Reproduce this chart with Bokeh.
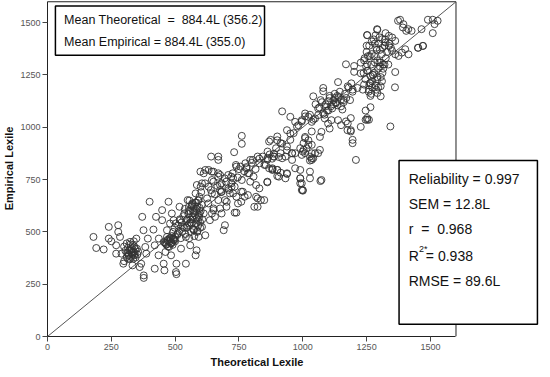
from bokeh.plotting import figure
from bokeh.models import Range1d, Label, BoxAnnotation, FixedTicker, ColumnDataSource, Title
from bokeh.embed import file_html
from bokeh.resources import INLINE

# ---- data (theoretical, empirical) ----
theo_low = [180,191,220,240,240,250,269,269,277,277,284,290,297,300,310,320,323,329,333,336,341,348,361,367,371,376,377,377,383,387,393,400,415,420,420,425,435,436,449,449,
            305,315,318,325,330,335,340,345,350,355,310,322,338,352,300,
            312,318,326,332,338,344,316,328,334,342]
emp_low = [476,423,416,524,468,455,396,436,532,500,476,396,348,360,380,412,452,404,340,372,388,468,332,348,572,508,292,280,428,396,468,644,511,436,324,572,388,468,604,556,
           410,425,395,440,418,400,430,378,420,405,445,370,455,392,430,
           400,388,412,392,405,418,372,380,436,398]

theo_b = [455,458,462,468,468,474,476,480,484,487,494,497,503,505,505,510,517,520,523,530,536,542,542,549,555,559,567,574,580,584,587,590,592,595,600,605,612,618,630,636,644,650,656,669,676,690,695,702,714,733,733,759,785,810,823,836,
          460,465,470,472,478,482,485,488,490,492,495,498,500,502,508,512,515,518,522,525,528,532,535,538,540,545,548,552,555,558,560,562,565,568,570,572,575,578,580,582,585,588,590,593,596,598,600,602,604,606,
          455,462,470,478,486,494,500,466,484,492,
          545,552,560,566,572,578,584,590,596,556,564,574,586,594,548,570,582,598]
emp_b = [348,316,404,508,476,644,428,540,388,588,556,460,308,298,348,492,620,556,420,524,588,348,476,652,540,436,572,508,388,412,620,556,476,668,716,524,588,484,636,556,684,604,572,652,700,508,532,644,684,592,716,692,676,620,660,652,
         450,440,462,430,455,470,445,480,438,500,465,520,455,540,485,530,505,560,470,545,500,575,520,610,490,555,530,585,470,600,545,500,625,560,515,590,480,640,540,600,565,505,650,580,615,545,600,690,630,560,
         452,446,458,470,450,462,476,440,445,468,
         520,600,560,630,510,580,610,530,590,650,540,620,500,570,560,600,640,520]

theo_c = [761,761,731,641,669,669,599,618,643,669,694,720,738,756,775,794,807,823,843,862,868,868,794,585,617,650,676,720,761,
          625,640,655,665,680,700,710,725,745,750,770,780,790,800,815,830,850,870,880,895,
          861,887,913,932,958,804,830,855,740,779,785,881,900,938,990,996,996,861,817,830,817,849,823,
          765,772,759,727,740,746,695,701,676,644,650,682,740,
          721,708,682,682,669,644,631,605,612,631,650,676,708,727,580,592,567,554]
emp_c = [959,921,881,860,860,844,788,796,788,780,756,764,820,812,828,844,764,860,860,884,932,804,740,724,732,740,724,732,748,
         660,700,680,720,690,740,700,780,760,800,790,810,780,830,800,850,820,870,850,900,
         845,860,876,860,876,844,828,820,812,804,780,804,796,780,756,732,700,740,724,708,668,652,620,
         692,668,644,684,668,636,652,620,612,588,612,588,592,
         716,708,692,732,764,748,716,732,780,796,788,772,772,756,684,652,636,620]

theo_d = [919,951,970,983,996,1009,1022,1035,1048,1060,1080,1086,1099,1105,1112,1138,1150,1176,1188,1227,1195,1195,1252,1259,1343,1208,1073,1035,1041,996,1009,938,951,900,919,887,906,938,958,970,1009,1022,1067,1073,1035,1048,1060,990,1028,1028,881,906,932,970,1003,1000,1069,990,990,1000,881,900,913,900,938,861,1028,1028,1067,1000,1015,1022,919,958,887,861,
          874,900,913,938,951,964,977,996,1009,1028,1041,1035,1009,990,1003,1035,1035,
          1041,1080,1080,1125,1150,1138,1176,1195,1214,1240,1259,1090,1100,1110,1120,1130,1140,1105,1115,1125,1135,1145,1160,1170,1095,1065,1050,1085,1155,1185,
          1060,1075,1090,1105,1120,1135,1150,1165,1180,1195,1070,1100,1130,1160,1190]
emp_d = [1076,1050,1026,1010,1034,1066,1050,1026,1042,1058,1066,1042,1018,994,1034,1034,1010,1018,986,1002,940,924,1044,1036,1004,844,748,844,852,868,876,986,970,938,922,874,858,890,844,876,954,938,954,978,916,876,876,796,788,756,796,764,756,804,924,697,743,756,732,700,799,796,783,767,777,737,860,841,892,884,900,916,852,876,860,852,
         940,956,924,908,940,972,1004,1028,1052,1060,1036,980,948,900,892,876,852,
         1148,1188,1172,1140,1132,1216,1196,1180,1188,1204,1180,1110,1125,1100,1130,1115,1145,1150,1090,1160,1105,1170,1120,1140,1080,1095,1110,1060,1085,1130,
         1090,1120,1100,1140,1110,1150,1100,1160,1190,1170,1130,1080,1120,1130,1210]

theo_e = [1252,1292,1324,1337,1350,1362,1311,1324,1337,1350,1362,1375,1388,1401,1414,1169,1201,1227,1252,1201,1227,1265,1265,1292,1305,1292,1305,1362,1246,1252,1188,1175,1188,1265,1246,1169,1361,1392,1405,1291,1252,
          1235,1240,1245,1250,1255,1260,1262,1268,1270,1275,1280,1285,1288,1295,1300,1305,1310,1315,1320,1325,1238,1248,1258,1272,1282,1292,1302,1312,1322,1330,1335,1340,1255,1265,1275,1285,1295,1305,1315,1345,
          1242,1252,1262,1272,1282,1292,1302,1312,1260,1270,1280,1290,1300,1310,1250,1320,1298,1278,1268,1288]
emp_e = [1440,1466,1450,1437,1429,1413,1421,1405,1389,1365,1349,1341,1357,1373,1349,1301,1293,1309,1301,1265,1258,1245,1212,1229,1196,1164,1148,1264,1036,1036,1044,986,980,1096,1080,1028,1191,1477,1461,1469,1441,
         1180,1320,1230,1360,1270,1390,1210,1300,1410,1250,1340,1200,1380,1280,1430,1240,1350,1300,1390,1330,1260,1290,1170,1220,1400,1320,1370,1260,1420,1360,1300,1400,1340,1150,1250,1440,1190,1310,1280,1380,
         1330,1270,1340,1190,1310,1240,1290,1380,1200,1350,1260,1370,1310,1220,1390,1300,1400,1420,1160,1180]

theo_f = [1381,1394,1413,1426,1465,1490,1509,1528,1516,1509,1452,1471,1470,1451,1373]
emp_f = [1514,1493,1469,1461,1469,1514,1514,1509,1493,1450,1380,1389,1389,1380,1509]

axis_ticks = [0, 250, 500, 750, 1000, 1250, 1500]
axis_max = 1600
identity_line = [0, 1600]

stats_box1 = ["Mean Theoretical \u00a0= \u00a0884.4L (356.2)", "Mean Empirical = 884.4L (355.0)"]
stats_box2 = ["Reliability = 0.997", "SEM = 12.8L", "r \u00a0= \u00a00.968", "R", "RMSE = 89.6L"]

theoretical = theo_low + theo_b + theo_c + theo_d + theo_e + theo_f
empirical = emp_low + emp_b + emp_c + emp_d + emp_e + emp_f

FONT = "Liberation Sans"
INK = "#111111"

# frame extended to the right so the statistics box can overhang the plot area
p = figure(width=540, height=369, output_backend="svg", toolbar_location=None,
           x_range=Range1d(0, 1931), y_range=Range1d(0, 1606),
           min_border_left=38, min_border_right=0, min_border_top=0, min_border_bottom=0)
p.background_fill_color = "white"
p.border_fill_color = "white"
p.outline_line_color = None
p.grid.visible = False

# visible plot box (top and right sides)
p.line([0, axis_max, axis_max], [axis_max, axis_max, 0], line_color="#222222", line_width=1)

p.line(identity_line, identity_line, line_color="#555555", line_width=1)
src = ColumnDataSource(dict(x=theoretical, y=empirical))
p.scatter("x", "y", source=src, marker="circle", size=7, fill_color=None,
          line_color="#333333", line_width=1, line_alpha=0.9)

for ax in (p.xaxis[0], p.yaxis[0]):
    ax.ticker = FixedTicker(ticks=axis_ticks)
    ax.bounds = (0, axis_max)
    ax.minor_tick_line_color = None
    ax.major_tick_out = 5
    ax.major_tick_in = 0
    ax.major_label_standoff = 2
    ax.major_label_text_font = FONT
    ax.major_label_text_font_size = "9px"
    ax.major_label_text_color = "#555555"
    ax.axis_line_color = "#222222"
    ax.major_tick_line_color = "#444444"
    ax.axis_label_text_font = FONT
    ax.axis_label_text_font_style = "bold"
    ax.axis_label_text_font_size = "11px"
    ax.axis_label_text_color = INK
p.yaxis.axis_label = "Empirical Lexile"
p.yaxis.axis_label_standoff = 2

p.add_layout(Title(text="Theoretical Lexile", align="left", offset=163, standoff=3,
                   text_font=FONT, text_font_style="bold", text_font_size="11px",
                   text_color=INK), "below")

box1 = BoxAnnotation(left=31, right=850, top=1580, bottom=1344, fill_color="white", fill_alpha=1,
                     line_color="black", line_width=1.5, line_alpha=1)
box2 = BoxAnnotation(left=1377, right=1919, top=841, bottom=58, fill_color="white", fill_alpha=1,
                     line_color="black", line_width=1.5, line_alpha=1)
p.add_layout(box1)
p.add_layout(box2)

for txt, yy in zip(stats_box1, [1513, 1406]):
    p.add_layout(Label(x=65, y=yy, text=txt, text_font=FONT, text_font_size="12.5px",
                       text_baseline="middle", text_color=INK))

for txt, yy in zip(stats_box2, [754, 633, 512, 387, 266]):
    p.add_layout(Label(x=1415, y=yy, text=txt, text_font=FONT, text_font_size="14px",
                       text_baseline="middle", text_color=INK))
p.add_layout(Label(x=1455, y=420, text="2*", text_font=FONT, text_font_size="9px",
                   text_baseline="middle", text_color=INK))
p.add_layout(Label(x=1482, y=387, text="= 0.938", text_font=FONT, text_font_size="14px",
                   text_baseline="middle", text_color=INK))

open("out.html", "w").write(file_html(p, INLINE))
